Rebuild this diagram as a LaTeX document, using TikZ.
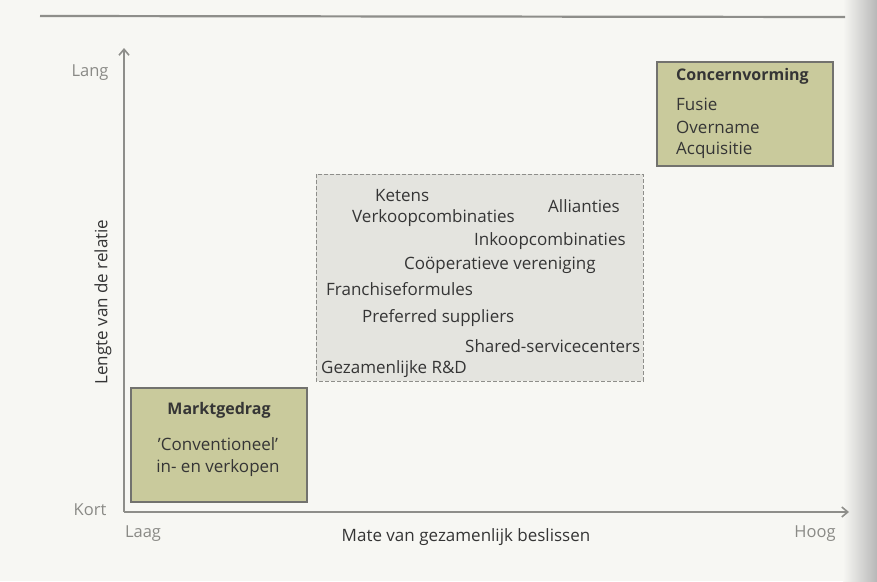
\documentclass[tikz,border=0pt]{standalone}
\usepackage{fontspec}
\setmainfont{Open Sans}
\usetikzlibrary{arrows.meta}
\definecolor{paper}{HTML}{F7F7F3}
\definecolor{olive}{HTML}{C9CA9C}
\definecolor{ink}{HTML}{353535}
\definecolor{axisgray}{HTML}{8E8E8A}
\definecolor{labelgray}{HTML}{8A8A86}
\definecolor{dashfill}{HTML}{E4E4DF}
\tikzset{
  axis/.style={draw=axisgray, line width=1.6pt, -{Straight Barb[length=6pt,width=10pt]}},
  solidbox/.style={draw=axisgray!80!black, line width=1.5pt, fill=olive},
  dashbox/.style={draw=axisgray, line width=1pt, dashed, dash pattern=on 4pt off 2pt, fill=dashfill},
  item/.style={anchor=west, inner sep=0pt, text=ink, font=\fontsize{17}{20}\selectfont},
  plain/.style={inner sep=0pt, text=ink, font=\fontsize{17}{20}\selectfont},
  head/.style={inner sep=0pt, text=ink, font=\fontsize{16}{19}\selectfont\bfseries},
  endlabel/.style={inner sep=0pt, text=labelgray, font=\fontsize{16.5}{19}\selectfont},
  axislabel/.style={inner sep=0pt, text=ink, font=\fontsize{17}{20}\selectfont},
}
\begin{document}
\begin{tikzpicture}[x=1pt,y=-1pt]
  % page
  \fill[paper] (0,0) rectangle (877,581);
  \useasboundingbox (0,0) rectangle (877,581);
  \shade[left color=paper, right color=black!28] (843,0) rectangle (877,581);
  \draw[axisgray, line width=2.2pt] (40,16) -- (845,17);

  % axes
  \coordinate (origin) at (124,512);
  \coordinate (ytop) at (124,48);
  \coordinate (xend) at (849,512);
  \draw[axis] (origin) -- (ytop);
  \draw[axis] (origin) -- (xend);

  % axis labels
  \node[endlabel] (lang) at (90,73) {Lang};
  \node[endlabel] (kort) at (90,510) {Kort};
  \node[endlabel] (laag) at (143,534) {Laag};
  \node[endlabel] (hoog) at (815,534) {Hoog};
  \node[axislabel] (xlab) at (466,537) {Mate van gezamenlijk beslissen};
  \node[axislabel, rotate=90] (ylab) at (103,302) {Lengte van de relatie};

  % low quadrant
  \draw[solidbox] (131,388) rectangle (307,502);
  \node[head] (markt) at (219,410) {Marktgedrag};
  \node[plain] (conv) at (218,444) {\char"0027 Conventioneel\char"0027};
  \node[plain] (inv) at (218,468) {in- en verkopen};

  % high quadrant
  \draw[solidbox] (657,62) rectangle (833,166);
  \node[head, anchor=west] (concern) at (676,76) {Concernvorming};
  \node[item] (fusie) at (676,104) {Fusie};
  \node[item] (overname) at (676,127) {Overname};
  \node[item] (acq) at (676,150) {Acquisitie};

  % intermediate forms
  \draw[dashbox] (316,174) rectangle (643,381);
  \node[item] (ketens) at (375,196) {Ketens};
  \node[item] (allianties) at (548,206) {Allianties};
  \node[item] (verkoop) at (352,218) {Verkoopcombinaties};
  \node[item] (inkoop) at (474,241) {Inkoopcombinaties};
  \node[item] (coop) at (404,265) {Coöperatieve vereniging};
  \node[item] (franchise) at (326,289) {Franchiseformules};
  \node[item] (preferred) at (362,318) {Preferred suppliers};
  \node[item] (shared) at (465,346) {Shared-servicecenters};
  \node[item] (rd) at (321,369) {Gezamenlijke R\&D};
\end{tikzpicture}
\end{document}
